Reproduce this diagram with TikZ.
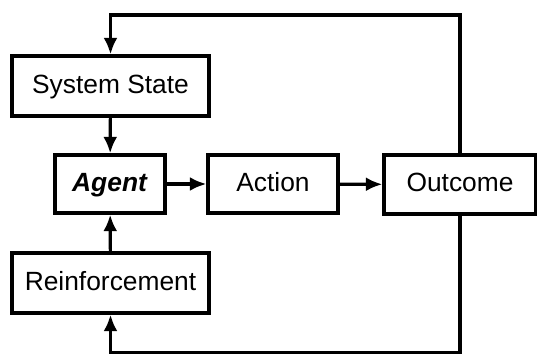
\documentclass[tikz,border=0pt]{standalone}
\usepackage{fontspec}
\setmainfont{Liberation Sans}
\usetikzlibrary{arrows.meta}

\tikzset{
    block/.style={draw=black, fill=white, line width=1.9pt, text height=11pt, text depth=3pt, font=\fontsize{15}{18}\selectfont},
    link/.style={line width=1.8pt, -{Latex[length=3.3mm,width=2.8mm]}}
}

\begin{document}
\begin{tikzpicture}[x=0.02cm, y=-0.02cm]
    \useasboundingbox (0,0) rectangle (537,354);

    % Boxes
    \node[block, minimum width=3.94cm, minimum height=1.2cm] (state) at (110.5,86) {System State};
    \node[block, minimum width=2.2cm, minimum height=1.16cm] (agent) at (110,184) {\textbf{\textit{Agent}}};
    \node[block, minimum width=2.6cm, minimum height=1.16cm] (action) at (273,184) {Action};
    \node[block, minimum width=3.04cm, minimum height=1.18cm] (outcome) at (460,184.5) {Outcome};
    \node[block, minimum width=3.94cm, minimum height=1.2cm] (reinf) at (110.5,283) {Reinforcement};

    % Loop levels
    \coordinate (top) at (0,15);
    \coordinate (bottom) at (0,353);

    % Main arrows
    \draw[link] (state) -- (agent);
    \draw[link] (reinf) -- (agent);
    \draw[link] (agent) -- (action);
    \draw[link] (action) -- (outcome);

    % Feedback loops
    \draw[link] (outcome.north) -- (outcome.north |- top) -| (state.north);
    \draw[link] (outcome.south) -- (outcome.south |- bottom) -| (reinf.south);
\end{tikzpicture}
\end{document}
